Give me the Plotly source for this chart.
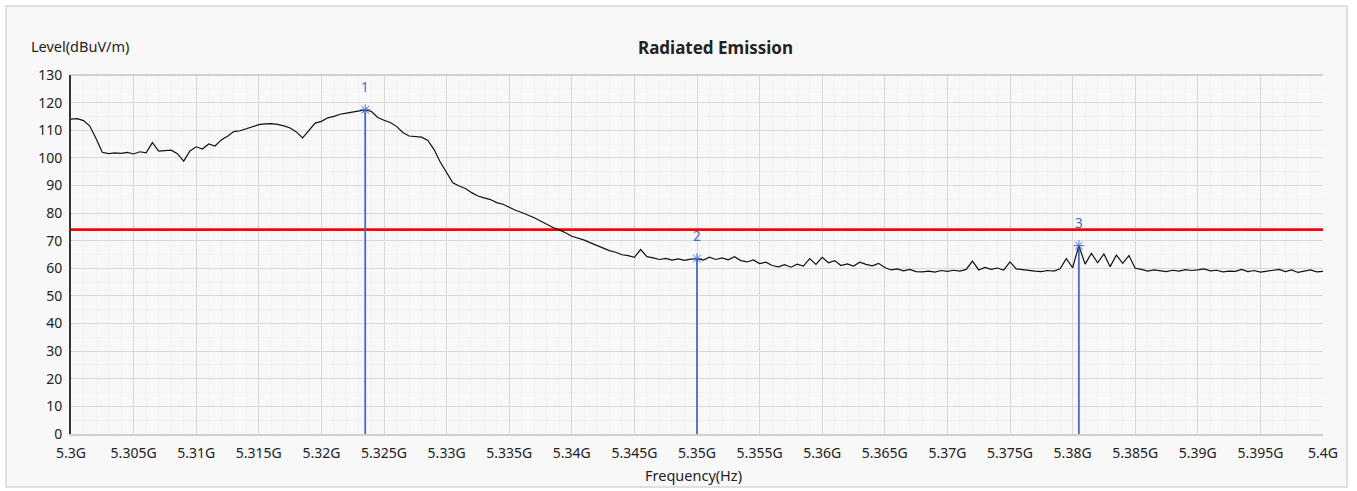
import plotly.graph_objects as go

# Measured spectrum: 5.300 GHz to 5.400 GHz, 0.5 MHz steps
freq_start_ghz = 5.300
freq_step_ghz = 0.0005
level_dbuv = [
    114.0, 114.2, 113.5, 111.5, 107.0, 102.0, 101.5, 101.8, 101.6, 102.0,
    101.4, 102.2, 101.8, 105.5, 102.4, 102.6, 102.8, 101.5, 98.8, 102.5,
    104.0, 103.2, 105.0, 104.3, 106.5, 107.8, 109.5, 109.8, 110.6, 111.4,
    112.0, 112.3, 112.4, 112.1, 111.6, 110.8, 109.4, 107.2, 110.0, 112.6,
    113.2, 114.5, 115.0, 115.8, 116.2, 116.6, 116.9, 117.4, 116.8, 114.6,
    113.6, 112.8, 111.4, 109.2, 107.9, 107.6, 107.5, 106.3, 103.0, 98.4,
    94.5, 91.0, 89.8, 88.9, 87.4, 86.2, 85.5, 84.9, 83.8, 83.2,
    82.1, 81.0, 80.2, 79.3, 78.3, 77.1, 75.9, 74.8, 73.9, 72.9,
    71.6, 71.0, 70.2, 69.2, 68.3, 67.3, 66.4, 65.8, 64.9, 64.6,
    64.0, 66.8, 64.2, 63.8, 63.2, 63.6, 63.0, 63.4, 62.9, 63.3,
    63.5, 63.0, 64.0, 63.2, 63.8, 63.1, 64.2, 62.8, 62.3, 63.0,
    61.7, 62.2, 61.0, 60.5, 61.3, 60.4, 61.5, 60.8, 63.5, 61.4,
    64.0, 62.0, 62.8, 61.0, 61.6, 60.8, 62.2, 61.4, 60.9, 61.8,
    60.3, 59.4, 59.8, 59.1, 59.6, 58.8, 58.7, 59.0, 58.6, 59.2,
    58.9, 59.3, 59.0, 59.6, 62.6, 59.4, 60.3, 59.6, 60.1, 59.4,
    62.3, 59.8, 59.5, 59.1, 59.0, 58.8, 59.2, 59.0, 59.8, 63.5,
    60.2, 68.2, 61.5, 65.4, 62.0, 65.2, 60.6, 64.8, 61.8, 64.6,
    60.0, 59.6, 59.0, 59.4, 59.1, 58.8, 59.3, 59.0, 59.5, 59.2,
    59.4, 59.8, 59.1, 59.3, 58.7, 59.0, 58.9, 59.6, 58.8, 59.2,
    58.6, 59.0, 59.3, 59.6, 58.8, 59.4, 58.5, 59.0, 59.4, 58.7,
    58.9,
]
freq_ghz = [round(freq_start_ghz + i * freq_step_ghz, 4) for i in range(len(level_dbuv))]

# Limit line
limit_level = 74

# Peak markers
marker_labels = ["1", "2", "3"]
marker_freq = [5.3235, 5.3500, 5.3805]
marker_level = [117.4, 63.5, 68.2]

# Axis ticks
x_tick_vals = [5.300, 5.305, 5.310, 5.315, 5.320, 5.325, 5.330, 5.335, 5.340, 5.345,
               5.350, 5.355, 5.360, 5.365, 5.370, 5.375, 5.380, 5.385, 5.390, 5.395, 5.400]
x_tick_text = ["5.3G", "5.305G", "5.31G", "5.315G", "5.32G", "5.325G", "5.33G", "5.335G",
               "5.34G", "5.345G", "5.35G", "5.355G", "5.36G", "5.365G", "5.37G", "5.375G",
               "5.38G", "5.385G", "5.39G", "5.395G", "5.4G"]
y_tick_vals = list(range(0, 131, 10))

FONT = "Noto Sans"
BLUE = "#3f6fc6"

fig = go.Figure()

# limit line
fig.add_trace(go.Scatter(
    x=[x_tick_vals[0], x_tick_vals[-1]], y=[limit_level, limit_level],
    mode="lines", line=dict(color="#ff0000", width=2.6), hoverinfo="skip",
))

# marker stems
for f, lv in zip(marker_freq, marker_level):
    fig.add_trace(go.Scatter(
        x=[f, f], y=[0, lv], mode="lines",
        line=dict(color=BLUE, width=1.8), hoverinfo="skip",
    ))

# spectrum trace
fig.add_trace(go.Scatter(
    x=freq_ghz, y=level_dbuv, mode="lines",
    line=dict(color="#111111", width=1.2),
))

# marker symbols
fig.add_trace(go.Scatter(
    x=marker_freq, y=marker_level, mode="markers",
    marker=dict(symbol="asterisk-open", size=9, color=BLUE, line=dict(color=BLUE, width=1)),
))

for lab, f, lv in zip(marker_labels, marker_freq, marker_level):
    fig.add_annotation(
        x=f, y=lv, text=lab, showarrow=False, yshift=23,
        font=dict(family=FONT, size=13.5, color=BLUE),
    )

# panel frame
fig.add_shape(
    type="rect", xref="paper", yref="paper",
    x0=(6 - 71) / 1252, x1=(1347 - 71) / 1252,
    y0=-(487 - 434) / 359, y1=1 + (75 - 6) / 359,
    fillcolor="#f8f8f8", line=dict(color="#d6d6d6", width=1.5), layer="below",
)
# top border of plot area
fig.add_shape(
    type="line", xref="paper", yref="paper", x0=0, x1=1, y0=1, y1=1,
    line=dict(color="#a8a8a8", width=1.2),
)

fig.add_annotation(
    xref="paper", yref="paper", x=(715 - 71) / 1252, y=1 + (75 - 47) / 359,
    text="Radiated Emission", showarrow=False, xanchor="center", yanchor="middle",
    font=dict(family=FONT, size=17, color="#222222", weight="bold"),
)
fig.add_annotation(
    xref="paper", yref="paper", x=(29 - 71) / 1252, y=1 + (75 - 46) / 359,
    text="Level(dBuV/m)", showarrow=False, xanchor="left", yanchor="middle",
    font=dict(family=FONT, size=14.5, color="#222222"),
)
fig.add_annotation(
    xref="paper", yref="paper", x=(693 - 71) / 1252, y=-(475 - 434) / 359,
    text="Frequency(Hz)", showarrow=False, xanchor="center", yanchor="middle",
    font=dict(family=FONT, size=14.5, color="#222222"),
)

fig.update_layout(
    width=1357, height=491,
    margin=dict(l=71, r=34, t=75, b=57),
    paper_bgcolor="white", plot_bgcolor="white",
    showlegend=False,
    font=dict(family=FONT, size=14, color="#222222"),
    xaxis=dict(
        range=[x_tick_vals[0], x_tick_vals[-1]],
        tickvals=x_tick_vals, ticktext=x_tick_text,
        showgrid=True, gridcolor="#d8d8d8", gridwidth=1,
        minor=dict(showgrid=True, gridcolor="#f2f2f2", dtick=0.001),
        showline=True, linecolor="#cfcfcf", linewidth=1.5,
        zeroline=False, ticks="", ticklabelstandoff=5,
        tickfont=dict(family=FONT, size=14, color="#222222"),
    ),
    yaxis=dict(
        range=[0, 130], tickvals=y_tick_vals,
        showgrid=True, gridcolor="#d8d8d8", gridwidth=1,
        minor=dict(showgrid=True, gridcolor="#f2f2f2", dtick=5),
        showline=True, linecolor="#333333", linewidth=2,
        zeroline=False, ticks="", ticklabelstandoff=4,
        tickfont=dict(family=FONT, size=14, color="#222222"),
    ),
)

fig.write_html("out.html")
